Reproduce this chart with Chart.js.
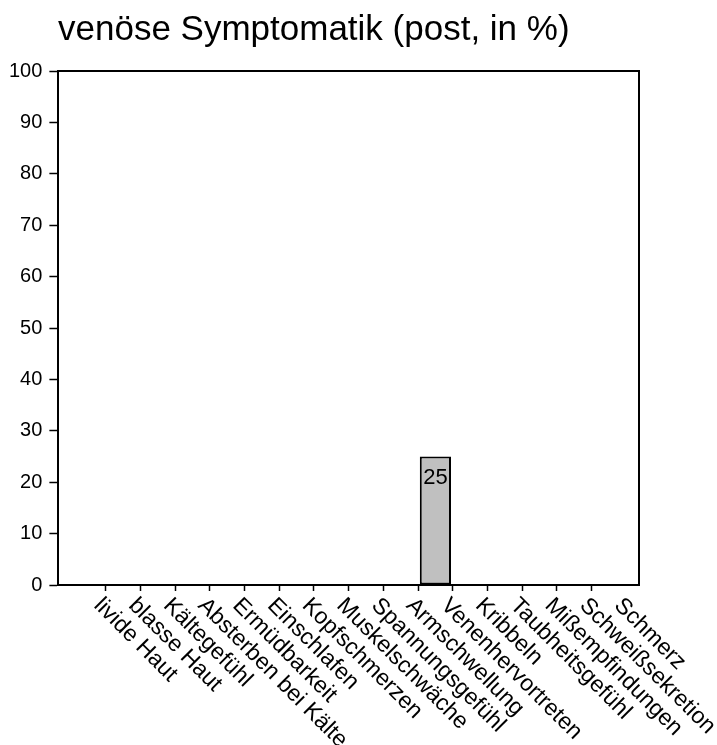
<!DOCTYPE html>
<html>
<head>
<meta charset="utf-8">
<script src="https://cdn.jsdelivr.net/npm/chart.js@4/dist/chart.umd.min.js"></script>
<style>
  body { margin: 0; background: #fff; }
  #wrap { width: 717px; height: 745px; }
</style>
</head>
<body>
<div id="wrap"><canvas id="chart1" width="717" height="745"></canvas></div>
<script>
var titleText = "venöse Symptomatik (post, in %)";
var labels = ["livide Haut", "blasse Haut", "Kältegefühl", "Absterben bei Kälte", "Ermüdbarkeit",
  "Einschlafen", "Kopfschmerzen", "Muskelschwäche", "Spannungsgefühl", "Armschwellung",
  "Venenhervortreten", "Kribbeln", "Taubheitsgefühl", "Mißempfindungen", "Schweißsekretion", "Schmerz"];
var values = [0, 0, 0, 0, 0, 0, 0, 0, 0, 0, 25, 0, 0, 0, 0, 0];
var yMin = 0;
var yMax = 100;
var yStep = 10;

var fontName = "'Liberation Sans', Arial, sans-serif";

// frame + rotated category labels + value labels + title
var extras = {
  id: 'extras',
  afterDraw: function(chart) {
    var ctx = chart.ctx;
    var area = chart.chartArea;
    var xs = chart.scales.x;
    var ys = chart.scales.y;
    ctx.save();
    ctx.strokeStyle = '#000';
    ctx.lineWidth = 2;
    ctx.beginPath();
    ctx.moveTo(area.left, area.top);
    ctx.lineTo(area.right, area.top);
    ctx.lineTo(area.right, area.bottom);
    ctx.stroke();

    ctx.fillStyle = '#000';
    ctx.font = '23px ' + fontName;
    ctx.textAlign = 'left';
    ctx.textBaseline = 'middle';
    for (var i = 0; i < labels.length; i++) {
      var px = xs.getPixelForValue(i);
      ctx.save();
      ctx.translate(px + 9, area.bottom + 17);
      ctx.rotate(Math.PI / 4);
      ctx.fillText(labels[i], 0, 0);
      ctx.restore();
    }

    ctx.font = '22px ' + fontName;
    ctx.textAlign = 'center';
    for (var j = 0; j < values.length; j++) {
      if (values[j] > 0) {
        ctx.fillText(String(values[j]), xs.getPixelForValue(j), ys.getPixelForValue(values[j]) + 21);
      }
    }

    ctx.font = '35px ' + fontName;
    ctx.textAlign = 'left';
    ctx.textBaseline = 'alphabetic';
    ctx.fillText(titleText, 58, 40);
    ctx.restore();
  }
};

var ctx = document.getElementById("chart1").getContext("2d");
var myChart = new Chart(ctx, {
  type: 'bar',
  data: {
    datasets: [{
      data: values.map(function(v, i) { return {x: i, y: v}; }),
      backgroundColor: "#c0c0c0",
      borderColor: "#000",
      borderWidth: 2,
      borderSkipped: false,
      barPercentage: 0.9,
      categoryPercentage: 1
    }]
  },
  options: {
    responsive: false,
    animation: false,
    layout: { padding: { top: 71, right: 78, bottom: 154, left: 2 } },
    plugins: { legend: { display: false }, tooltip: { enabled: false } },
    scales: {
      x: {
        type: 'linear',
        min: -0.87,
        max: 15.87,
        offset: false,
        afterBuildTicks: function(axis) {
          axis.ticks = axis.ticks.filter(function(t) { return Number.isInteger(t.value); });
        },
        ticks: { display: false, stepSize: 1 },
        grid: { drawOnChartArea: false, drawTicks: true, tickLength: 6, tickColor: '#000', tickWidth: 1.5 },
        border: { display: true, color: '#000', width: 2 }
      },
      y: {
        min: yMin,
        max: yMax,
        ticks: { stepSize: yStep, color: '#000', padding: 7, font: { family: fontName, size: 20 } },
        grid: { drawOnChartArea: false, drawTicks: true, tickLength: 9, tickColor: '#000', tickWidth: 1.5 },
        border: { display: true, color: '#000', width: 2 }
      }
    }
  },
  plugins: [extras]
});
</script>
</body>
</html>
